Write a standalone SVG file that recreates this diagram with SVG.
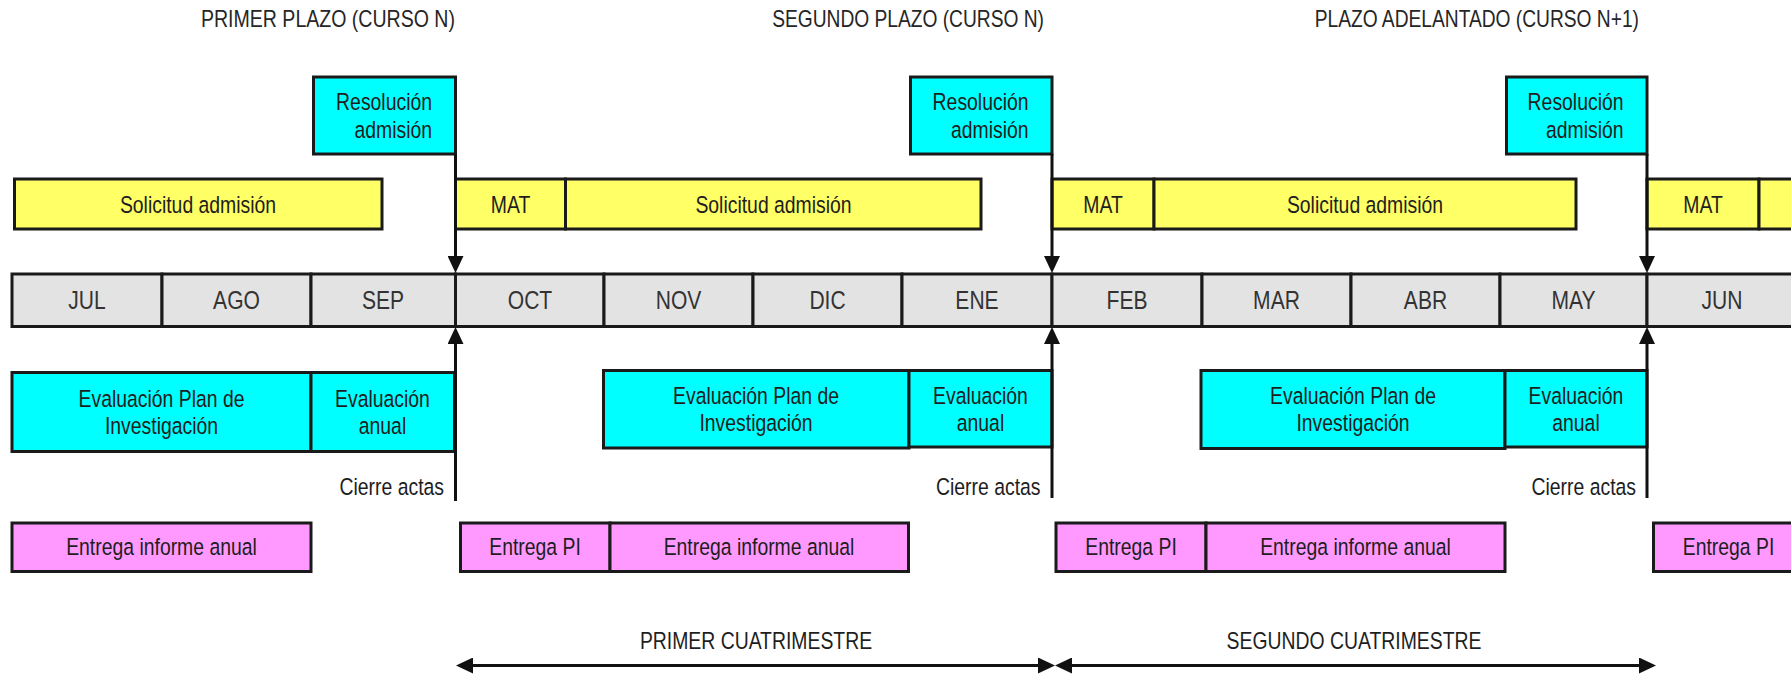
<svg xmlns="http://www.w3.org/2000/svg" width="1791" height="675" viewBox="0 0 1791 675">
<style>
text{font-family:"Liberation Sans",Arial,sans-serif;fill:#1e1e1e;font-size:23.5px}
.c{text-anchor:middle}
.e{text-anchor:end}
.t{font-size:24px;fill:#262626}
.m{font-size:26px;fill:#333}
.box{stroke:#1a1a1a;stroke-width:3}
.y{fill:#FFFF66}
.cy{fill:#00FFFF}
.p{fill:#FF99FF}
.g{fill:#E3E3E3}
.ln{stroke:#111;stroke-width:3;fill:none}
</style>
<defs>
<marker id="ah" markerUnits="userSpaceOnUse" markerWidth="17" markerHeight="16" viewBox="0 0 17 16" refX="0" refY="8" orient="auto-start-reverse">
<path d="M0,0 L17,8 L0,16 z" fill="#111"/>
</marker>
</defs>
<rect width="1791" height="675" fill="#fff"/>

<g id="titles">
<text class="t e" transform="translate(455 27) scale(.815 1)">PRIMER PLAZO (CURSO N)</text>
<text class="t e" transform="translate(1044 27) scale(.8 1)">SEGUNDO PLAZO (CURSO N)</text>
<text class="t e" transform="translate(1639 27) scale(.8 1)">PLAZO ADELANTADO (CURSO N+1)</text>
</g>

<g id="months">
<g id="m-jul"><rect class="box g" x="12" y="274" width="150" height="52.5"/><text class="m c" transform="translate(87 308.5) scale(.81 1)">JUL</text></g>
<g id="m-ago"><rect class="box g" x="162" y="274" width="149" height="52.5"/><text class="m c" transform="translate(236.5 308.5) scale(.81 1)">AGO</text></g>
<g id="m-sep"><rect class="box g" x="311" y="274" width="144.5" height="52.5"/><text class="m c" transform="translate(383 308.5) scale(.81 1)">SEP</text></g>
<g id="m-oct"><rect class="box g" x="455.5" y="274" width="148.5" height="52.5"/><text class="m c" transform="translate(530 308.5) scale(.81 1)">OCT</text></g>
<g id="m-nov"><rect class="box g" x="604" y="274" width="149" height="52.5"/><text class="m c" transform="translate(678.5 308.5) scale(.81 1)">NOV</text></g>
<g id="m-dic"><rect class="box g" x="753" y="274" width="149" height="52.5"/><text class="m c" transform="translate(827.5 308.5) scale(.81 1)">DIC</text></g>
<g id="m-ene"><rect class="box g" x="902" y="274" width="150" height="52.5"/><text class="m c" transform="translate(977 308.5) scale(.81 1)">ENE</text></g>
<g id="m-feb"><rect class="box g" x="1052" y="274" width="150" height="52.5"/><text class="m c" transform="translate(1127 308.5) scale(.81 1)">FEB</text></g>
<g id="m-mar"><rect class="box g" x="1202" y="274" width="149" height="52.5"/><text class="m c" transform="translate(1276.5 308.5) scale(.81 1)">MAR</text></g>
<g id="m-abr"><rect class="box g" x="1351" y="274" width="149" height="52.5"/><text class="m c" transform="translate(1425.5 308.5) scale(.81 1)">ABR</text></g>
<g id="m-may"><rect class="box g" x="1500" y="274" width="147" height="52.5"/><text class="m c" transform="translate(1573.5 308.5) scale(.81 1)">MAY</text></g>
<g id="m-jun"><rect class="box g" x="1647" y="274" width="150" height="52.5"/><text class="m c" transform="translate(1722 308.5) scale(.81 1)">JUN</text></g>
</g>

<g id="resolucion">
<g id="res1"><rect class="box cy" x="313.5" y="77" width="142" height="77"/><text class="e" transform="translate(432 110) scale(.825 1)">Resolución</text><text class="e" transform="translate(432 137.5) scale(.825 1)">admisión</text></g>
<g id="res2"><rect class="box cy" x="910.5" y="77" width="141.5" height="77"/><text class="e" transform="translate(1028.5 110) scale(.825 1)">Resolución</text><text class="e" transform="translate(1028.5 137.5) scale(.825 1)">admisión</text></g>
<g id="res3"><rect class="box cy" x="1506.5" y="77" width="140.5" height="77"/><text class="e" transform="translate(1623.5 110) scale(.825 1)">Resolución</text><text class="e" transform="translate(1623.5 137.5) scale(.825 1)">admisión</text></g>
</g>

<g id="solicitud">
<g id="sol1"><rect class="box y" x="14.5" y="179" width="367.5" height="50"/><text class="c" transform="translate(198 212.5) scale(.825 1)">Solicitud admisión</text></g>
<g id="mat1"><rect class="box y" x="455.5" y="179" width="110" height="50"/><text class="c" transform="translate(510.5 212.5) scale(.825 1)">MAT</text></g>
<g id="sol2"><rect class="box y" x="565.5" y="179" width="415.5" height="50"/><text class="c" transform="translate(773.5 212.5) scale(.825 1)">Solicitud admisión</text></g>
<g id="mat2"><rect class="box y" x="1052" y="179" width="102" height="50"/><text class="c" transform="translate(1103 212.5) scale(.825 1)">MAT</text></g>
<g id="sol3"><rect class="box y" x="1154" y="179" width="422" height="50"/><text class="c" transform="translate(1365 212.5) scale(.825 1)">Solicitud admisión</text></g>
<g id="mat3"><rect class="box y" x="1647" y="179" width="112" height="50"/><text class="c" transform="translate(1703 212.5) scale(.825 1)">MAT</text></g>
<g id="sol4"><rect class="box y" x="1759" y="179" width="60" height="50"/></g>
</g>

<g id="evaluacion">
<g id="ep1"><rect class="box cy" x="12" y="372.5" width="299" height="79"/><text class="c" transform="translate(161.5 406.5) scale(.825 1)">Evaluación Plan de</text><text class="c" transform="translate(161.5 434) scale(.825 1)">Investigación</text></g>
<g id="ea1"><rect class="box cy" x="311" y="372.5" width="143.5" height="79"/><text class="c" transform="translate(382.5 406.5) scale(.825 1)">Evaluación</text><text class="c" transform="translate(382.5 434) scale(.825 1)">anual</text></g>
<g id="ep2"><rect class="box cy" x="603.5" y="370.5" width="305.5" height="77.5"/><text class="c" transform="translate(756 403.5) scale(.825 1)">Evaluación Plan de</text><text class="c" transform="translate(756 431) scale(.825 1)">Investigación</text></g>
<g id="ea2"><rect class="box cy" x="909" y="370.5" width="143" height="76.5"/><text class="c" transform="translate(980.5 403.5) scale(.825 1)">Evaluación</text><text class="c" transform="translate(980.5 431) scale(.825 1)">anual</text></g>
<g id="ep3"><rect class="box cy" x="1201" y="370.5" width="304" height="78"/><text class="c" transform="translate(1353 403.5) scale(.825 1)">Evaluación Plan de</text><text class="c" transform="translate(1353 431) scale(.825 1)">Investigación</text></g>
<g id="ea3"><rect class="box cy" x="1505" y="370.5" width="142" height="76.5"/><text class="c" transform="translate(1576 403.5) scale(.825 1)">Evaluación</text><text class="c" transform="translate(1576 431) scale(.825 1)">anual</text></g>
</g>

<g id="cierre">
<text class="e" transform="translate(444 494.5) scale(.825 1)">Cierre actas</text>
<text class="e" transform="translate(1040.5 494.5) scale(.825 1)">Cierre actas</text>
<text class="e" transform="translate(1636 494.5) scale(.825 1)">Cierre actas</text>
</g>

<g id="entrega">
<g id="eia1"><rect class="box p" x="12" y="523" width="299" height="48.5"/><text class="c" transform="translate(161.5 555) scale(.825 1)">Entrega informe anual</text></g>
<g id="pi1"><rect class="box p" x="460.5" y="523" width="149.5" height="48.5"/><text class="c" transform="translate(535 555) scale(.825 1)">Entrega PI</text></g>
<g id="eia2"><rect class="box p" x="610" y="523" width="298.5" height="48.5"/><text class="c" transform="translate(759 555) scale(.825 1)">Entrega informe anual</text></g>
<g id="pi2"><rect class="box p" x="1056" y="523" width="150" height="48.5"/><text class="c" transform="translate(1131 555) scale(.825 1)">Entrega PI</text></g>
<g id="eia3"><rect class="box p" x="1206" y="523" width="299" height="48.5"/><text class="c" transform="translate(1355.5 555) scale(.825 1)">Entrega informe anual</text></g>
<g id="pi3"><rect class="box p" x="1653.5" y="523" width="150" height="48.5"/><text class="c" transform="translate(1728.5 555) scale(.825 1)">Entrega PI</text></g>
</g>

<g id="cuatrimestres">
<text class="c" transform="translate(756 649) scale(.825 1)">PRIMER CUATRIMESTRE</text>
<text class="c" transform="translate(1354 649) scale(.825 1)">SEGUNDO CUATRIMESTRE</text>
</g>

<g id="connectors">
<path class="ln" d="M455.5,154 V256" marker-end="url(#ah)"/>
<path class="ln" d="M455.5,501 V344" marker-end="url(#ah)"/>
<path class="ln" d="M1052,154 V256" marker-end="url(#ah)"/>
<path class="ln" d="M1052,498 V344" marker-end="url(#ah)"/>
<path class="ln" d="M1647,154 V256" marker-end="url(#ah)"/>
<path class="ln" d="M1647,498 V344" marker-end="url(#ah)"/>
<path class="ln" d="M473,665.5 H1038" marker-start="url(#ah)" marker-end="url(#ah)"/>
<path class="ln" d="M1072,665.5 H1639" marker-start="url(#ah)" marker-end="url(#ah)"/>
</g>
</svg>
